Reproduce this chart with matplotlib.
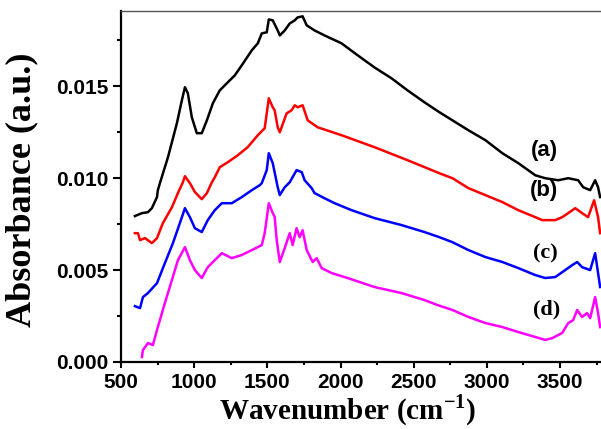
import matplotlib
matplotlib.use("Agg")
import matplotlib.pyplot as plt
from matplotlib.ticker import MultipleLocator

# wavenumber (cm-1) / absorbance
a_x = [595, 643, 684, 711, 746, 752, 766, 821, 882, 916, 937, 957, 984, 1018, 1052, 1087, 1128, 1175, 1230, 1278,
       1325, 1394, 1435, 1462, 1496, 1510, 1537, 1571, 1585, 1619, 1653, 1687, 1707, 1741, 1769, 1823, 1891, 2007,
       2117, 2232, 2348, 2458, 2574, 2676, 2765, 2874, 2990, 3106, 3215, 3331, 3399, 3488, 3556, 3624, 3658, 3706,
       3740, 3760, 3774]
a_y = [0.00794, 0.00810, 0.00815, 0.00837, 0.00897, 0.00935, 0.00973, 0.01114, 0.01299, 0.01424, 0.01495, 0.01462,
       0.01332, 0.01245, 0.01245, 0.01315, 0.01408, 0.01478, 0.01522, 0.01560, 0.01614, 0.01696, 0.01734, 0.01788,
       0.01794, 0.01864, 0.01859, 0.01804, 0.01777, 0.01804, 0.01842, 0.01859, 0.01875, 0.01881, 0.01832, 0.01804,
       0.01777, 0.01734, 0.01669, 0.01603, 0.01544, 0.01478, 0.01413, 0.01359, 0.01315, 0.01261, 0.01207, 0.01136,
       0.01082, 0.01016, 0.01000, 0.00989, 0.01000, 0.00989, 0.00951, 0.00935, 0.00989, 0.00951, 0.00897]

b_x = [595, 616, 630, 664, 711, 746, 786, 848, 889, 923, 937, 971, 1005, 1052, 1087, 1121, 1141, 1175, 1230, 1298,
       1366, 1435, 1482, 1510, 1537, 1550, 1571, 1585, 1632, 1666, 1687, 1707, 1741, 1776, 1844, 2007, 2232, 2458,
       2676, 2765, 2874, 2990, 3106, 3215, 3331, 3378, 3467, 3515, 3556, 3604, 3651, 3692, 3733, 3760, 3774]
b_y = [0.00701, 0.00701, 0.00663, 0.00674, 0.00647, 0.00674, 0.00755, 0.00842, 0.00919, 0.00978, 0.01011, 0.00973,
       0.00925, 0.00886, 0.00919, 0.00978, 0.01005, 0.01060, 0.01087, 0.01125, 0.01169, 0.01234, 0.01272, 0.01435,
       0.01386, 0.01370, 0.01277, 0.01250, 0.01353, 0.01370, 0.01397, 0.01386, 0.01397, 0.01315, 0.01277, 0.01234,
       0.01169, 0.01098, 0.01027, 0.01000, 0.00946, 0.00908, 0.00870, 0.00826, 0.00788, 0.00772, 0.00772, 0.00788,
       0.00810, 0.00837, 0.00810, 0.00788, 0.00880, 0.00788, 0.00701]

c_x = [595, 630, 650, 684, 746, 800, 855, 902, 937, 971, 1005, 1052, 1093, 1141, 1189, 1257, 1325, 1394, 1448, 1462,
       1496, 1510, 1537, 1571, 1585, 1619, 1653, 1700, 1735, 1755, 1803, 1823, 1891, 1960, 2076, 2232, 2417, 2574,
       2676, 2765, 2874, 2990, 3106, 3215, 3331, 3399, 3467, 3535, 3583, 3617, 3651, 3706, 3740, 3760, 3774]
c_y = [0.00304, 0.00293, 0.00353, 0.00375, 0.00429, 0.00538, 0.00647, 0.00755, 0.00837, 0.00788, 0.00728, 0.00707,
       0.00772, 0.00826, 0.00864, 0.00864, 0.00897, 0.00935, 0.00962, 0.00973, 0.01044, 0.01136, 0.01082, 0.00951,
       0.00908, 0.00951, 0.00978, 0.01044, 0.01033, 0.00989, 0.00946, 0.00919, 0.00891, 0.00864, 0.00826, 0.00783,
       0.00745, 0.00707, 0.00679, 0.00652, 0.00609, 0.00571, 0.00544, 0.00511, 0.00473, 0.00457, 0.00462, 0.00500,
       0.00527, 0.00544, 0.00516, 0.00500, 0.00592, 0.00484, 0.00408]

d_x = [643, 650, 684, 718, 746, 800, 848, 889, 937, 971, 1005, 1052, 1093, 1141, 1189, 1257, 1325, 1394, 1462, 1482,
       1510, 1537, 1550, 1564, 1585, 1619, 1653, 1673, 1700, 1721, 1741, 1769, 1810, 1837, 1871, 1939, 2048, 2232,
       2417, 2574, 2662, 2765, 2874, 2990, 3106, 3215, 3331, 3399, 3447, 3515, 3556, 3590, 3617, 3651, 3685, 3706,
       3740, 3760, 3774]
d_y = [0.00027, 0.00065, 0.00103, 0.00092, 0.00174, 0.00321, 0.00446, 0.00554, 0.00625, 0.00554, 0.00500, 0.00457,
       0.00516, 0.00554, 0.00592, 0.00565, 0.00582, 0.00609, 0.00636, 0.00701, 0.00864, 0.00810, 0.00790, 0.00663,
       0.00544, 0.00620, 0.00701, 0.00636, 0.00728, 0.00679, 0.00717, 0.00609, 0.00544, 0.00565, 0.00511, 0.00484,
       0.00457, 0.00408, 0.00375, 0.00337, 0.00310, 0.00283, 0.00245, 0.00212, 0.00190, 0.00163, 0.00136, 0.00120,
       0.00130, 0.00158, 0.00212, 0.00228, 0.00283, 0.00245, 0.00266, 0.00239, 0.00353, 0.00266, 0.00190]

series = [(a_x, a_y, "#000000"), (b_x, b_y, "#ff0000"), (c_x, c_y, "#0000ff"), (d_x, d_y, "#ff00ff")]

# curve tags: text, x, y, font family
tags = [("(a)", 3392, 0.01152, "Liberation Sans"),
        ("(b)", 3392, 0.00935, "Liberation Sans"),
        ("(c)", 3399, 0.00592, "Liberation Serif"),
        ("(d)", 3406, 0.00283, "Liberation Serif")]


def main():
    plt.rcParams["mathtext.fontset"] = "custom"
    plt.rcParams["mathtext.rm"] = "Liberation Serif:bold"
    plt.rcParams["mathtext.bf"] = "Liberation Serif:bold"

    fig = plt.figure(figsize=(6.01, 4.29), dpi=100)
    ax = fig.add_axes([0.2013, 0.1562, 0.7987, 0.8182])

    for x, y, col in series:
        ax.plot(x, y, color=col, linewidth=1.8)

    for txt, x, y, fam in tags:
        ax.text(x, y, txt, family=fam, fontweight="bold", fontsize=16,
                ha="center", va="center")

    ax.set_xlim(500, 3780)
    ax.set_ylim(0, 0.0191)
    ax.xaxis.set_major_locator(MultipleLocator(500))
    ax.xaxis.set_minor_locator(MultipleLocator(250))
    ax.yaxis.set_major_locator(MultipleLocator(0.005))
    ax.yaxis.set_minor_locator(MultipleLocator(0.0025))
    ax.yaxis.set_major_formatter(plt.FormatStrFormatter("%.3f"))

    ax.spines["right"].set_visible(False)
    ax.spines["top"].set_color("#555555")
    ax.spines["top"].set_linewidth(1.0)
    ax.spines["left"].set_linewidth(1.6)
    ax.spines["bottom"].set_linewidth(1.6)

    ax.tick_params(axis="y", which="major", direction="out", length=6, width=1.5, pad=3)
    ax.tick_params(axis="y", which="minor", direction="out", length=3, width=1.5)
    ax.tick_params(axis="x", which="major", direction="out", length=4, width=1.5, pad=4)
    ax.tick_params(axis="x", which="minor", direction="out", length=2.5, width=1.5)
    for lab in ax.get_xticklabels() + ax.get_yticklabels():
        lab.set_family("Liberation Sans")
        lab.set_fontweight("bold")
        lab.set_fontsize(15)

    ax.set_xlabel(r"Wavenumber (cm$^{\mathbf{-1}}$)", family="Liberation Serif",
                  fontweight="bold", fontsize=21, va="baseline")
    ax.set_ylabel("Absorbance (a.u.)", family="Liberation Serif",
                  fontweight="bold", fontsize=26, va="center")
    ax.xaxis.set_label_coords(0.473, -0.163)
    ax.yaxis.set_label_coords(-0.206, 0.49)

    fig.savefig("out.png", dpi=100)


if __name__ == "__main__":
    main()
